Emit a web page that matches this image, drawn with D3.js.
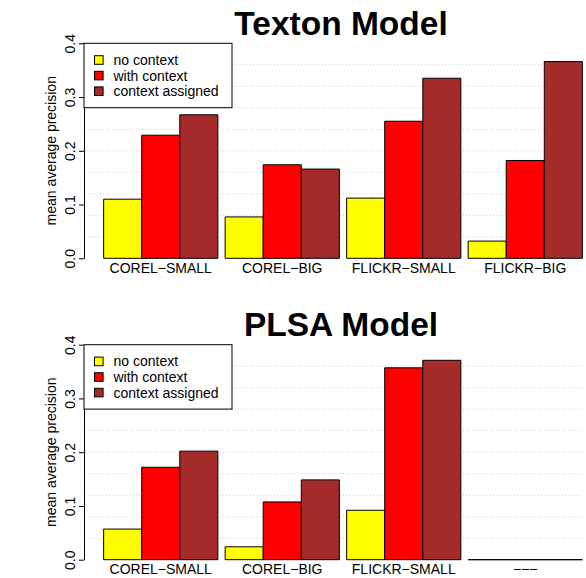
<!DOCTYPE html>
<html>
<head>
<meta charset="utf-8">
<script src="https://cdn.jsdelivr.net/npm/d3@7"></script>
<style>
  body { margin: 0; background: #fff; }
  text { font-family: "Liberation Sans", Arial, sans-serif; fill: #000; }
</style>
</head>
<body>
<script>
// data
var series = ["no context", "with context", "context assigned"];
var colors = ["#ffff00", "#ff0000", "#a52a2a"];
var yTicks = [0.0, 0.1, 0.2, 0.3, 0.4];
var gridValues = [0.04, 0.08, 0.12, 0.16, 0.20, 0.24, 0.28, 0.32, 0.36];

var textonCats = ["COREL\u2212SMALL", "COREL\u2212BIG", "FLICKR\u2212SMALL", "FLICKR\u2212BIG"];
var textonNoContext = [0.110, 0.077, 0.112, 0.032];
var textonWithContext = [0.229, 0.174, 0.255, 0.182];
var textonAssigned = [0.267, 0.166, 0.335, 0.366];

var plsaCats = ["COREL\u2212SMALL", "COREL\u2212BIG", "FLICKR\u2212SMALL", "\u2212\u2212\u2212"];
var plsaNoContext = [0.057, 0.024, 0.092, 0];
var plsaWithContext = [0.172, 0.1075, 0.357, 0];
var plsaAssigned = [0.202, 0.1485, 0.371, 0];

var width = 586, height = 578;

var svg = d3.select("body").append("svg")
    .attr("width", width)
    .attr("height", height);

// draws one panel (title, grid, bars, axis, legend)
function panel(title, cats, vals, top) {
  var y0 = top + 258.3, y1 = top + 43.3;
  var y = d3.scaleLinear().domain([0, 0.4]).range([y0, y1]);
  var x = d3.scaleBand().domain(cats).range([100, 586])
      .paddingInner(0.06).paddingOuter(0.03);
  var xs = d3.scaleBand().domain(series).range([0, x.bandwidth()]);

  var g = svg.append("g");

  g.append("text")
    .attr("x", 341).attr("y", top + 35)
    .attr("text-anchor", "middle")
    .style("font-size", "33.5px").style("font-weight", "bold")
    .text(title);

  // dotted grid behind the bars
  g.selectAll(".grid").data(gridValues).enter().append("line")
    .attr("x1", 85).attr("x2", 583)
    .attr("y1", d => y(d)).attr("y2", d => y(d))
    .attr("stroke", "#cfcfcf").attr("stroke-width", 1)
    .attr("stroke-dasharray", "1,2");

  var groups = g.selectAll(".grp").data(cats).enter().append("g")
    .attr("transform", d => "translate(" + x(d) + ",0)");

  // bars as paths so a zero value still shows as a flat line
  groups.selectAll("path")
    .data((d, i) => series.map((s, j) => ({s: s, v: vals[j][i], c: colors[j]})))
    .enter().append("path")
    .attr("d", function(d) {
      var bx = xs(d.s), bw = xs.bandwidth();
      return "M" + bx + "," + y(0) + "V" + y(d.v) + "H" + (bx + bw) + "V" + y(0) + "Z";
    })
    .attr("fill", d => d.c)
    .attr("stroke", "#000").attr("stroke-width", 1);

  groups.append("text")
    .attr("x", x.bandwidth() / 2).attr("y", y0 + 14.3)
    .attr("text-anchor", "middle")
    .style("font-size", "14px")
    .text(d => d);

  // y axis, labels parallel to the axis like R
  var axis = g.append("g").attr("transform", "translate(84,0)")
    .call(d3.axisLeft(y).tickValues(yTicks).tickFormat(d3.format(".1f")).tickSize(5).tickSizeOuter(0));
  axis.select(".domain").attr("stroke", "#000");
  axis.selectAll(".tick line").attr("stroke", "#000");
  axis.selectAll(".tick text")
    .attr("x", null).attr("dy", null).attr("y", null)
    .attr("transform", "translate(-9.5,0) rotate(-90)")
    .attr("text-anchor", "middle")
    .style("font-size", "14px").style("font-family", "Liberation Sans, Arial, sans-serif")
    .attr("fill", "#000");

  g.append("text")
    .attr("transform", "translate(56," + ((y0 + y1) / 2) + ") rotate(-90)")
    .attr("text-anchor", "middle")
    .style("font-size", "14px")
    .text("mean average precision");

  // legend box
  var lg = g.append("g");
  lg.append("rect")
    .attr("x", 84).attr("y", y1).attr("width", 148).attr("height", 64.4)
    .attr("fill", "#fff").attr("stroke", "#000").attr("stroke-width", 1);
  series.forEach(function(s, i) {
    var cy = y1 + 16.7 + i * 15.6;
    lg.append("rect")
      .attr("x", 94.5).attr("y", cy - 4.3).attr("width", 8.6).attr("height", 8.6)
      .attr("fill", colors[i]).attr("stroke", "#000").attr("stroke-width", 1);
    lg.append("text")
      .attr("x", 113.5).attr("y", cy + 5)
      .style("font-size", "14px")
      .text(s);
  });
}

panel("Texton Model", textonCats, [textonNoContext, textonWithContext, textonAssigned], 0);
panel("PLSA Model", plsaCats, [plsaNoContext, plsaWithContext, plsaAssigned], 301.4);
</script>
</body>
</html>
